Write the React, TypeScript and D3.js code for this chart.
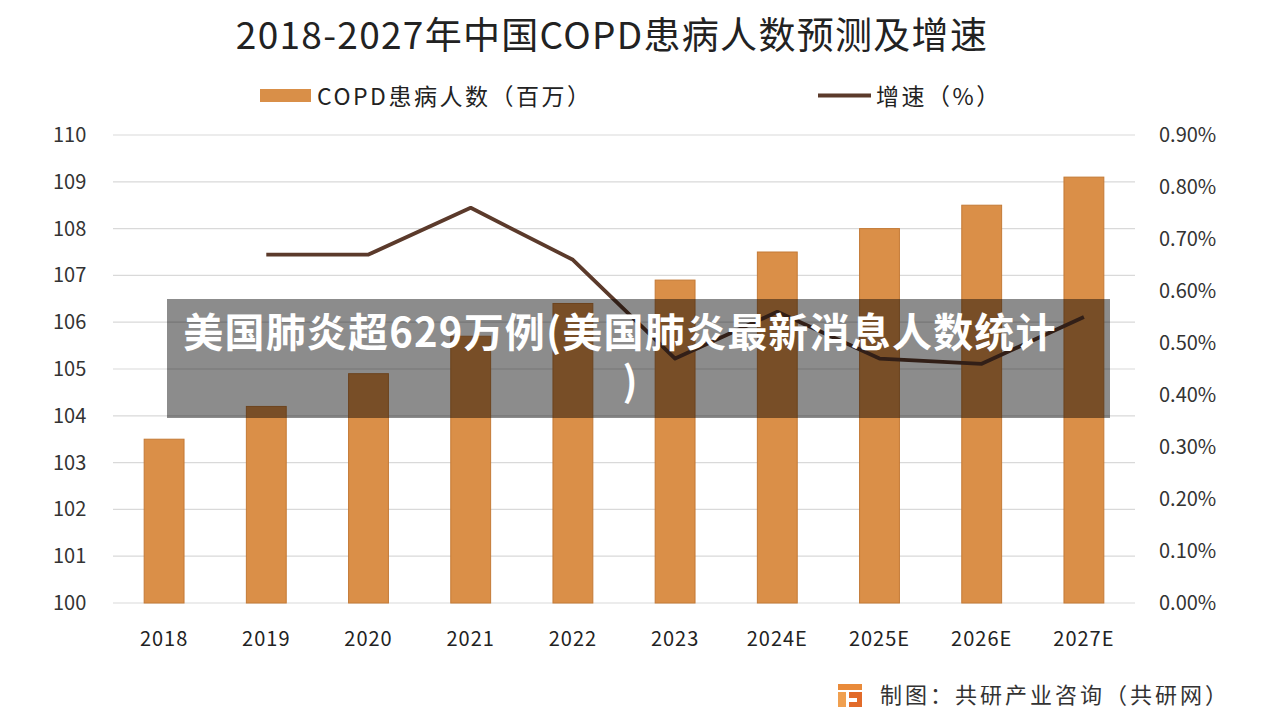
import React from "react";
import * as d3 from "d3";

const years = ["2018", "2019", "2020", "2021", "2022", "2023", "2024E", "2025E", "2026E", "2027E"];
const patients = [103.5, 104.2, 104.9, 105.7, 106.4, 106.9, 107.5, 108.0, 108.5, 109.1];
const growthYears = ["2019", "2020", "2021", "2022", "2023", "2024E", "2025E", "2026E", "2027E"];
const growth = [0.67, 0.67, 0.76, 0.66, 0.47, 0.56, 0.47, 0.46, 0.55];
const leftTicks = [100, 101, 102, 103, 104, 105, 106, 107, 108, 109, 110];
const rightTicks = [0, 0.1, 0.2, 0.3, 0.4, 0.5, 0.6, 0.7, 0.8, 0.9];

const title = "2018-2027年中国COPD患病人数预测及增速";
const legendBar = "COPD患病人数（百万）";
const legendLine = "增速（%）";
const source = "制图：共研产业咨询（共研网）";
const overlayLine1 = "美国肺炎超629万例(美国肺炎最新消息人数统计";
const overlayLine2 = ")";

const W = 1280;
const H = 718;
const FONT = "'Noto Sans CJK SC', 'Noto Sans', sans-serif";

export default function App() {
  const x = d3.scaleBand<string>().domain(years).range([113, 1135]);
  const yL = d3.scaleLinear().domain([100, 110]).range([603, 135]);
  const yR = d3.scaleLinear().domain([0, 0.9]).range([603, 135]);
  const barW = x.step() * 0.39;
  const cx = (d: string) => (x(d) as number) + x.bandwidth() / 2;

  const line = d3
    .line<number>()
    .x((_, i) => cx(growthYears[i]))
    .y((d) => yR(d));

  return (
    <svg
      width={W}
      height={H}
      style={{ position: "absolute", left: 0, top: 0, display: "block", background: "#fff" }}
      fontFamily={FONT}
    >
      <rect x={0} y={0} width={W} height={H} fill="#fff" />
      {/* title */}
      <text x={612} y={49} textAnchor="middle" fontSize={37} fill="#222" letterSpacing={1.3}>
        {title}
      </text>
      {/* legend */}
      <rect x={260} y={89} width={51} height={13} fill="#d98f48" />
      <text x={317} y={105} fontSize={23} fill="#222" letterSpacing={2.5}>
        {legendBar}
      </text>
      <line x1={818} x2={871} y1={95.5} y2={95.5} stroke="#5b3a2b" strokeWidth={4} />
      <text x={876} y={105} fontSize={23} fill="#222" letterSpacing={2.5}>
        {legendLine}
      </text>
      {/* gridlines */}
      {leftTicks.map((t) => (
        <line key={t} x1={113} x2={1135} y1={yL(t)} y2={yL(t)} stroke="#d9d9d9" strokeWidth={1.2} />
      ))}
      {/* left axis labels */}
      {leftTicks.map((t) => (
        <text key={t} x={53} y={yL(t) + 7} fontSize={20} fill="#333">
          {t}
        </text>
      ))}
      {/* right axis labels */}
      {rightTicks.map((t) => (
        <text key={t} x={1159} y={yR(t) + 7} fontSize={20} fill="#333">
          {t.toFixed(2) + "%"}
        </text>
      ))}
      {/* bars */}
      {patients.map((v, i) => (
        <rect
          key={years[i]}
          x={cx(years[i]) - barW / 2}
          y={yL(v)}
          width={barW}
          height={yL(100) - yL(v)}
          fill="#da8f48"
          stroke="#c47a36"
          strokeWidth={1}
        />
      ))}
      {/* growth line */}
      <path d={line(growth) || ""} fill="none" stroke="#5b3a2b" strokeWidth={3.8} strokeLinejoin="round" />
      {/* x labels */}
      {years.map((d) => (
        <text key={d} x={cx(d)} y={646} textAnchor="middle" fontSize={20} fill="#222" letterSpacing={1}>
          {d}
        </text>
      ))}
      {/* source */}
      <g transform="translate(838,684)">
        <rect x={0} y={0} width={24} height={6} fill="#e98a3a" />
        <rect x={0} y={8} width={8} height={15} fill="#f0a050" />
        <path d="M11 8 H24 V23 H11 V18 H19 V14 H11 Z" fill="#e26b2a" />
      </g>
      <text x={880} y={703} fontSize={22} fill="#333" letterSpacing={3}>
        {source}
      </text>
      {/* overlay banner */}
      <rect x={167} y={299} width={943} height={119} fill="rgba(0,0,0,0.45)" />
      <text
        x={620}
        y={347}
        textAnchor="middle"
        fontSize={40}
        fontWeight={700}
        fill="#fff"
        letterSpacing={1.2}
      >
        {overlayLine1}
      </text>
      <text x={630} y={396} textAnchor="middle" fontSize={40} fontWeight={700} fill="#fff">
        {overlayLine2}
      </text>
    </svg>
  );
}
